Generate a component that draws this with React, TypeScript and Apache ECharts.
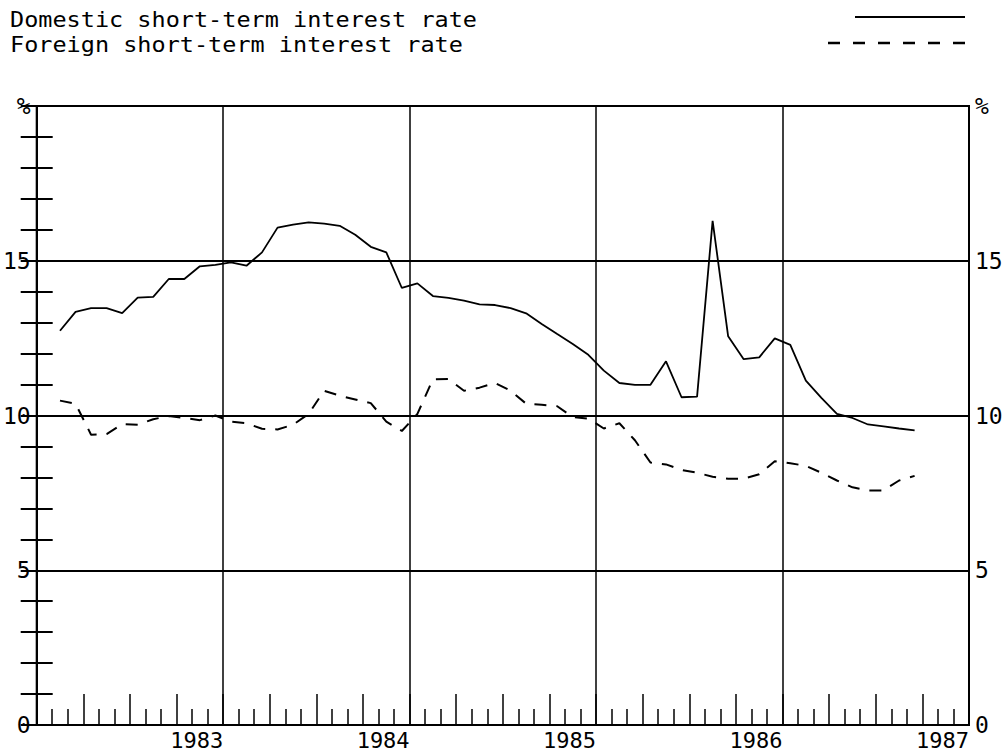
import React, { useEffect, useRef } from "react";
import * as echarts from "echarts";

// Monthly observations, starting February 1982 (plotted at mid-month)
const START_YEAR = 1982;
const FIRST_MONTH = 1; // 0 = January, 1 = February
const domestic = [
  12.74, 13.35, 13.47, 13.47, 13.31, 13.81, 13.83, 14.41, 14.41, 14.82, 14.87, 14.95,
  14.84, 15.27, 16.07, 16.17, 16.24, 16.2, 16.13, 15.84, 15.45, 15.27, 14.12, 14.27,
  13.86, 13.8, 13.71, 13.59, 13.57, 13.47, 13.3, 12.96, 12.63, 12.31, 11.96, 11.45,
  11.05, 10.99, 10.99, 11.75, 10.59, 10.61, 16.29, 12.56, 11.82, 11.88, 12.49, 12.28,
  11.13, 10.57, 10.05, 9.92, 9.71, 9.65, 9.58, 9.52,
];
const foreign = [
  10.48, 10.38, 9.38, 9.4, 9.72, 9.7, 9.88, 9.98, 9.92, 9.85, 10.0, 9.8,
  9.75, 9.57, 9.55, 9.7, 10.05, 10.8, 10.64, 10.52, 10.4, 9.8, 9.5, 10.05,
  11.17, 11.18, 10.8, 10.9, 11.05, 10.8, 10.38, 10.35, 10.3, 9.95, 9.9, 9.58,
  9.75, 9.2, 8.48, 8.42, 8.24, 8.15, 8.02, 7.96, 7.96, 8.1, 8.52, 8.46,
  8.37, 8.15, 7.9, 7.68, 7.58, 7.58, 7.9, 8.05,
];
const seriesNames = ["Domestic short-term interest rate", "Foreign short-term interest rate"];
const yearLabels = ["1983", "1984", "1985", "1986", "1987"];
const Y_MIN = 0;
const Y_MAX = 20;
const Y_STEP = 5;
const X_MONTHS = 60;

const FONT = '"DejaVu Sans Mono", "Liberation Mono", monospace';

function toPoints(values: number[]) {
  return values.map((v, i) => [FIRST_MONTH + i + 0.5, v]);
}

export default function App() {
  const ref = useRef<HTMLDivElement>(null);
  useEffect(() => {
    if (!ref.current) return;
    const chart = echarts.init(ref.current, null, { renderer: "svg" });
    const black = "#000";
    const yAxisBase = (position: "left" | "right") => ({
      type: "value",
      position,
      min: Y_MIN,
      max: Y_MAX,
      interval: Y_STEP,
      axisLine: { show: true, lineStyle: { color: black, width: 2 } },
      axisTick: { show: true, inside: true, length: 16, lineStyle: { color: black, width: 2 } },
      minorTick: { show: true, splitNumber: 5, length: 16, lineStyle: { color: black, width: 2 } },
      axisLabel: {
        show: true,
        margin: 6,
        color: black,
        fontFamily: FONT,
        fontSize: 23,
        lineHeight: 22,
        formatter: (v: number) => (v === Y_MAX ? "%" : String(v)),
      },
      splitLine: {
        show: position === "left",
        lineStyle: { color: black, width: 2 },
      },
    });
    const legendText = (text: string, y: number) => ({
      type: "text",
      x: 10,
      y,
      scaleX: 1.12,
      style: {
        text,
        font: `21px ${FONT}`,
        fill: black,
        align: "left",
        verticalAlign: "middle",
      },
    });
    chart.setOption({
      animation: false,
      backgroundColor: "#fff",
      grid: {
        left: 34,
        right: 38,
        top: 106,
        bottom: 29,
        show: true,
        borderColor: black,
        borderWidth: 2,
      },
      xAxis: [
        {
          type: "value",
          position: "bottom",
          min: 0,
          max: X_MONTHS,
          interval: 3,
          axisLine: { show: true, lineStyle: { color: black, width: 2 } },
          axisTick: { show: true, inside: true, length: 31, lineStyle: { color: black, width: 1.5 } },
          minorTick: { show: true, splitNumber: 3, length: 16, lineStyle: { color: black, width: 1.5 } },
          axisLabel: { show: false },
          splitLine: { show: false },
        },
        {
          type: "value",
          position: "bottom",
          min: 0,
          max: X_MONTHS,
          interval: 12,
          axisLine: { show: false },
          axisTick: { show: false },
          axisLabel: {
            show: true,
            align: "right",
            margin: 4,
            color: black,
            fontFamily: FONT,
            fontSize: 22,
            lineHeight: 22,
            showMinLabel: false,
            showMaxLabel: true,
            formatter: (v: number) => {
              const idx = Math.round(v / 12) - 1;
              return idx >= 0 && idx < yearLabels.length ? yearLabels[idx] : "";
            },
          },
          splitLine: { show: true, lineStyle: { color: black, width: 1.5 } },
        },
      ],
      yAxis: [yAxisBase("left"), yAxisBase("right")],
      series: [
        {
          name: seriesNames[0],
          type: "line",
          xAxisIndex: 0,
          yAxisIndex: 0,
          data: toPoints(domestic),
          showSymbol: false,
          symbol: "none",
          lineStyle: { color: black, width: 1.8 },
          z: 5,
        },
        {
          name: seriesNames[1],
          type: "line",
          xAxisIndex: 0,
          yAxisIndex: 0,
          data: toPoints(foreign),
          showSymbol: false,
          symbol: "none",
          lineStyle: { color: black, width: 2, type: [12, 10] },
          z: 5,
        },
      ],
      graphic: [
        legendText(seriesNames[0], 19),
        legendText(seriesNames[1], 44),
        {
          type: "line",
          shape: { x1: 855, y1: 17, x2: 965, y2: 17 },
          style: { stroke: black, lineWidth: 2 },
        },
        {
          type: "line",
          shape: { x1: 828, y1: 43, x2: 965, y2: 43 },
          style: { stroke: black, lineWidth: 2.5, lineDash: [12, 13] },
        },
      ],
    });
    return () => chart.dispose();
  }, []);
  return (
    <div
      ref={ref}
      style={{ position: "fixed", left: 0, top: 0, width: 1007, height: 754, background: "#fff" }}
    />
  );
}
